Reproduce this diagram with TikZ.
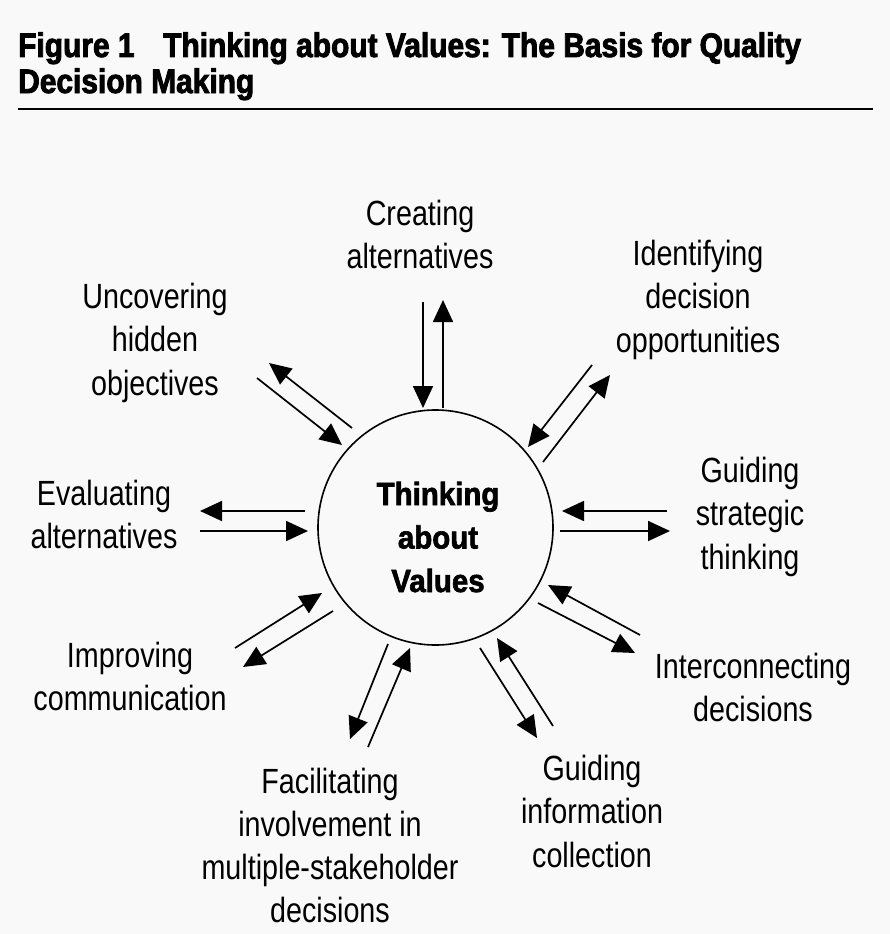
\documentclass[tikz,border=0pt]{standalone}
\usepackage{fontspec}
\usetikzlibrary{arrows.meta}
\newfontfamily\lblfont[FakeStretch=0.82]{Liberation Sans}
\newfontfamily\ttlfont[FakeStretch=0.88,BoldFeatures={FakeBold=2.5}]{Liberation Sans}
\newfontfamily\ctrfont[FakeStretch=0.92,BoldFeatures={FakeBold=2}]{Liberation Sans}
\definecolor{bgc}{RGB}{249,249,249}
\tikzset{
  lbl/.style={inner sep=0pt, align=center, anchor=base, font=\lblfont\fontsize{35}{43.5}\selectfont},
  ttl/.style={inner sep=0pt, anchor=base west, font=\ttlfont\bfseries\fontsize{34}{36}\selectfont},
  ctr/.style={circle, draw, line width=1.6pt, minimum size=235pt, inner sep=0pt},
  ctrtxt/.style={inner sep=0pt, align=center, anchor=base, font=\ctrfont\bfseries\fontsize{32}{43.5}\selectfont},
  arr/.style={line width=1.7pt, -{Triangle[length=22pt,width=20pt]}},
}
\begin{document}
\begin{tikzpicture}[x=1pt,y=-1pt]
\fill[bgc] (0,0) rectangle (890,934);
\useasboundingbox (0,0) rectangle (890,934);
% title
\node[ttl] (fig) at (18,57) {Figure 1};
\node[ttl] (ttl1) at (163,57) {Thinking about Values: The Basis for Quality};
\node[ttl] (ttl2) at (18,93) {Decision Making};
\coordinate (r1) at (18,109);
\coordinate (r2) at (873,109);
\draw[line width=2pt] (r1) -- (r2);
% centre
\node[ctr] (c) at (435.5,527.5) {};
\node[ctrtxt] (ctext) at (438,592) {Thinking\\about\\Values};
% labels (anchor = baseline of the last line)
\node[lbl] (creat) at (420,268.5) {Creating\\alternatives};
\node[lbl] (ident) at (698,352) {Identifying\\decision\\opportunities};
\node[lbl] (uncov) at (155,395) {Uncovering\\hidden\\objectives};
\node[lbl] (evalu) at (104,548.5) {Evaluating\\alternatives};
\node[lbl] (gstrat) at (750,569) {Guiding\\strategic\\thinking};
\node[lbl] (improv) at (130,710.5) {Improving\\communication};
\node[lbl] (inter) at (753,721.5) {Interconnecting\\decisions};
\node[lbl] (ginfo) at (592,867) {Guiding\\information\\collection};
\node[lbl, font=\lblfont\fontsize{35}{43}\selectfont] (facil) at (330,922) {Facilitating\\involvement in\\multiple-stakeholder\\decisions};
% arrow end points
\coordinate (a1s) at (423,302); \coordinate (a1e) at (423,408);
\coordinate (a2s) at (443,408); \coordinate (a2e) at (443,300);
\coordinate (b1s) at (352,428); \coordinate (b1e) at (269,363);
\coordinate (b2s) at (257,378); \coordinate (b2e) at (342,445);
\coordinate (d1s) at (592,365); \coordinate (d1e) at (528,447);
\coordinate (d2s) at (543,462); \coordinate (d2e) at (610,375);
\coordinate (e1s) at (305,511); \coordinate (e1e) at (200,511);
\coordinate (e2s) at (200,531); \coordinate (e2e) at (308,531);
\coordinate (f1s) at (667,511); \coordinate (f1e) at (562,511);
\coordinate (f2s) at (560,531); \coordinate (f2e) at (670,531);
\coordinate (g1s) at (235,648); \coordinate (g1e) at (322,593);
\coordinate (g2s) at (333,611); \coordinate (g2e) at (243,667);
\coordinate (h1s) at (640,635); \coordinate (h1e) at (548,585);
\coordinate (h2s) at (538,603); \coordinate (h2e) at (635,653);
\coordinate (k1s) at (388,644); \coordinate (k1e) at (350,739);
\coordinate (k2s) at (368,747); \coordinate (k2e) at (410,648);
\coordinate (m1s) at (480,648); \coordinate (m1e) at (537,738);
\coordinate (m2s) at (553,726); \coordinate (m2e) at (497,638);
\foreach \p in {a,b,d,e,f,g,h,k,m}{
  \draw[arr] (\p1s) -- (\p1e);
  \draw[arr] (\p2s) -- (\p2e);
}
\end{tikzpicture}
\end{document}
